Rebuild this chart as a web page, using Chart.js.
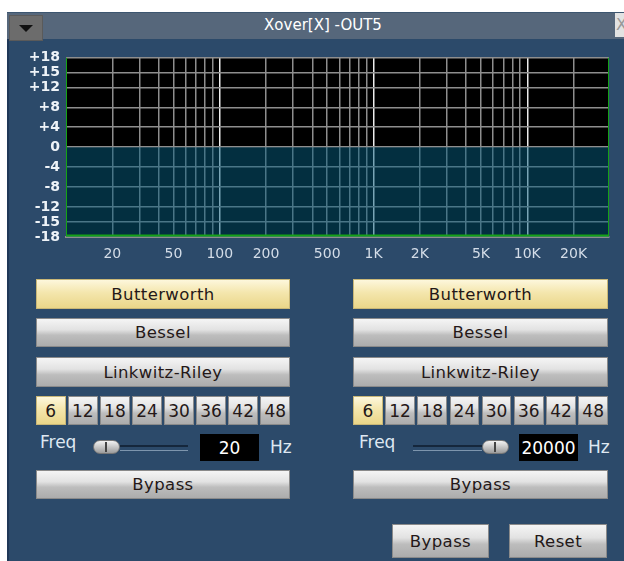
<!DOCTYPE html>
<html>
<head>
<meta charset="utf-8">
<script src="https://cdn.jsdelivr.net/npm/chart.js@4"></script>
<style>
body { margin:0; width:624px; height:561px; overflow:hidden; position:relative; background:#fff; font-family:"DejaVu Sans", sans-serif; }
.abs { position:absolute; box-sizing:border-box; }
#win { left:7px; top:12px; width:617px; height:549px; background:#2c4a6a; border-left:2px solid #1f3858; }
#titlebar { left:7px; top:12px; width:617px; height:27px; background:#56677b; border-top:1px solid #3d5670; }
#title { left:223px; top:12px; width:200px; height:27px; line-height:26px; text-align:center; color:#fff; font-size:15px; }
#drop { left:9px; top:15px; width:34px; height:26px; background:#6c6c6c; border:1px solid #5a5a5a; }
#drop:after { content:""; position:absolute; left:9px; top:9px; border-left:7px solid transparent; border-right:7px solid transparent; border-top:7px solid #111; }
#close { left:615px; top:13px; width:12px; height:24px; background:#e2e2e2; color:#999; font-size:16px; line-height:24px; padding-left:1px; overflow:hidden; }
.btn { border:1px solid #8a8a8a; background:linear-gradient(#f5f5f5 0%, #e2e2e2 40%, #bdbdbd 60%, #acacac 100%); color:#241818; font-size:16.5px; letter-spacing:0.4px; display:flex; align-items:center; justify-content:center; }
.btn.on { background:linear-gradient(#fdf7dc 0%, #f4e6ad 45%, #ead689 100%); border-color:#c9b777; }
.slopes { display:flex; gap:2.5px; }
.slopes .btn { flex:1; font-size:17px; letter-spacing:0; position:relative; }
.lbl { color:#dfe8f2; font-size:17px; }
.groove { height:3px; border-top:2px solid #15273c; border-bottom:1px solid #7d95ad; }
.knob { width:27px; height:14px; border-radius:7px; background:linear-gradient(#f2f2f2, #9c9c9c); border:1px solid #777; }
.knob:after { content:""; position:absolute; left:11px; top:1px; width:2px; height:10px; background:#444; }
.val { background:#000; color:#fff; font-size:17px; display:flex; align-items:center; justify-content:center; }
#plot { position:absolute; left:10px; top:43px; }
</style>
</head>
<body>
<div id="win" class="abs"></div>
<div id="titlebar" class="abs"></div>
<div id="title" class="abs">Xover[X] -OUT5</div>
<div id="drop" class="abs"></div>
<div id="close" class="abs">X</div>
<canvas id="plot" width="610" height="224"></canvas>
<div id="ui"></div>

<script>
// frequency grid (Hz) and which of them get a label
const freqTicks = [10, 20, 30, 40, 50, 60, 70, 80, 90, 100,
    200, 300, 400, 500, 600, 700, 800, 900, 1000,
    2000, 3000, 4000, 5000, 6000, 7000, 8000, 9000, 10000,
    20000, 34000];
const freqLabels = [20, 50, 100, 200, 500, 1000, 2000, 5000, 10000, 20000];
const majorFreqs = [100, 1000, 10000];

// gain axis (dB)
const gainTicks = [18, 15, 12, 8, 4, 0, -4, -8, -12, -15, -18];

// passband (teal area, 0 dB down to the floor)
const passFreq = [10, 34000];
const passGain = [0, 0];

// green response trace
const respFreq = [10, 10, 34000, 34000];
const respGain = [18, -17.7, -17.7, 18];

const filterTypes = ["Butterworth", "Bessel", "Linkwitz-Riley"];
const slopes = [6, 12, 18, 24, 30, 36, 42, 48];
const channelFreqs = ["20", "20000"];

function elementFromHtml(html) {
    const template = document.createElement("template");
    template.innerHTML = html.trim();
    return template.content.firstElementChild;
}

function add(html) {
    document.getElementById("ui").appendChild(elementFromHtml(html));
}

function box(x, y, w, h) {
    return 'style="left:' + x + 'px;top:' + y + 'px;width:' + w + 'px;height:' + h + 'px"';
}

// two channel columns
const cols = [
    {x: 36, w: 254, freqX: 40, grooveX: 120, grooveW: 68, knobX: 93, valX: 200, hzX: 270},
    {x: 353, w: 255, freqX: 359, grooveX: 413, grooveW: 69, knobX: 482, valX: 519, hzX: 588}
];
const typeRows = [[279, 30], [318, 29], [357, 30]];

cols.forEach((c, ci) => {
    filterTypes.forEach((t, i) => {
        let cls = i == 0 ? "abs btn on" : "abs btn";
        add('<div class="' + cls + '" ' + box(c.x, typeRows[i][0], c.w, typeRows[i][1]) + '>' + t + '</div>');
    });

    let row = '<div class="abs slopes" ' + box(c.x, 396, c.w, 29) + '>';
    for (let i = 0; i < slopes.length; i++) {
        row += '<div class="btn' + (i == 0 ? ' on' : '') + '">' + slopes[i] + '</div>';
    }
    add(row + '</div>');

    add('<div class="abs lbl" ' + box(c.freqX, 432, 50, 22) + '>Freq</div>');
    add('<div class="abs groove" ' + box(c.grooveX, 445, c.grooveW, 6) + '></div>');
    add('<div class="abs knob" ' + box(c.knobX, 440, 27, 14) + '></div>');
    add('<div class="abs val" ' + box(c.valX, 434, 59, 27) + '>' + channelFreqs[ci] + '</div>');
    add('<div class="abs lbl" ' + box(c.hzX, 437, 30, 22) + '>Hz</div>');
    add('<div class="abs btn" ' + box(c.x, 470, c.w, 29) + '>Bypass</div>');
});

add('<div class="abs btn" ' + box(392, 524, 97, 34) + '>Bypass</div>');
add('<div class="abs btn" ' + box(509, 524, 98, 34) + '>Reset</div>');

function fmtFreq(v) {
    return v >= 1000 ? (v / 1000) + "K" : String(v);
}

// black plot background
const plotBg = {
    id: "plotBg",
    beforeDraw(chart) {
        const a = chart.chartArea;
        chart.ctx.save();
        chart.ctx.fillStyle = "#000";
        chart.ctx.fillRect(a.left, a.top, a.right - a.left, a.bottom - a.top);
        chart.ctx.restore();
    }
};

const ctx = document.getElementById("plot");

new Chart(ctx, {
    type: "line",
    plugins: [plotBg],
    data: {
        datasets: [
            {
                label: "Response",
                data: respFreq.map((f, i) => ({x: f, y: respGain[i]})),
                borderColor: "#16a216",
                borderWidth: 2,
                pointRadius: 0,
                fill: false
            },
            {
                label: "Passband",
                data: passFreq.map((f, i) => ({x: f, y: passGain[i]})),
                borderColor: "rgba(0,0,0,0)",
                borderWidth: 0,
                backgroundColor: "rgba(6,94,127,0.5)",
                pointRadius: 0,
                fill: "start"
            }
        ]
    },
    options: {
        responsive: false,
        animation: false,
        devicePixelRatio: 1,
        layout: { padding: { top: 10, right: 11, left: 0, bottom: 0 } },
        plugins: { legend: { display: false }, tooltip: { enabled: false } },
        scales: {
            x: {
                type: "logarithmic",
                min: 10,
                max: 34000,
                afterBuildTicks: (scale) => { scale.ticks = freqTicks.map(v => ({value: v})); },
                afterFit: (scale) => { scale.height = 30; },
                grid: {
                    drawTicks: false,
                    lineWidth: 1.5,
                    color: (c) => {
                        let v = c.tick ? c.tick.value : 0;
                        if (v == 10 || v == 34000) return "rgba(0,0,0,0)";
                        return majorFreqs.includes(v) ? "#ececec" : "#8e8e8e";
                    }
                },
                border: { display: true, color: "#8e8e8e", width: 2 },
                ticks: {
                    autoSkip: false,
                    maxRotation: 0,
                    minRotation: 0,
                    padding: 9,
                    color: "#d4dde8",
                    font: { family: "DejaVu Sans", size: 14 },
                    callback: (v) => freqLabels.includes(v) ? fmtFreq(v) : ""
                }
            },
            y: {
                min: -18,
                max: 18,
                afterBuildTicks: (scale) => { scale.ticks = gainTicks.map(v => ({value: v})); },
                afterFit: (scale) => { scale.width = 56; },
                grid: { drawTicks: false, lineWidth: 1.5, color: "#8e8e8e" },
                border: { display: false },
                ticks: {
                    autoSkip: false,
                    padding: 6,
                    color: "#eef3f8",
                    font: { family: "DejaVu Sans", size: 14, weight: "bold" },
                    callback: (v) => v > 0 ? "+" + v : String(v)
                }
            }
        }
    }
});
</script>
</body>
</html>
